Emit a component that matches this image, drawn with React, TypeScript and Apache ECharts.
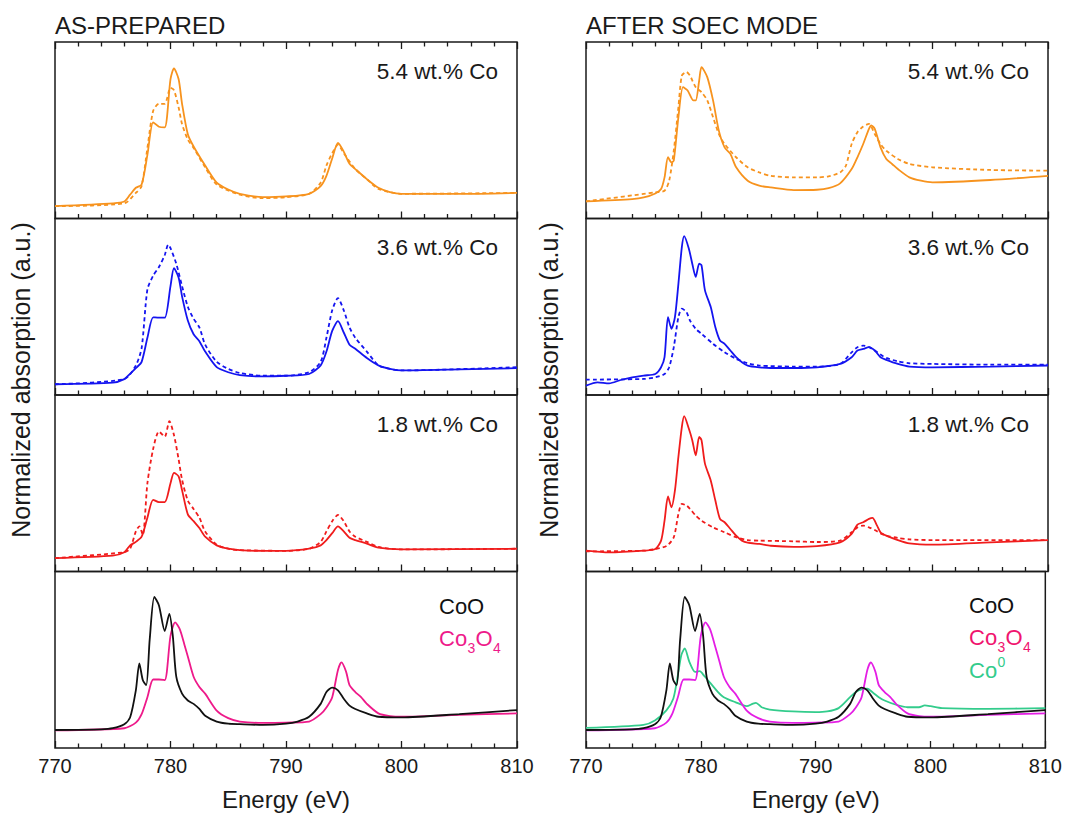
import React, { useEffect, useRef } from "react";
import * as echarts from "echarts";

// ---------- data (energy eV, normalized absorption in % of panel height) ----------
const asPrep54Solid = [[770,7],[775,8.6],[776,9.6],[776.5,13.5],[777,17.4],[777.5,19.3],[778,36],[778.5,54.5],[779,52],[779.5,51.6],[780,79],[780.3,85],[780.7,79],[781,65],[781.5,47.7],[782,40.8],[783,30],[784,20.3],[785,16.4],[786,14],[788,12.1],[790,12.5],[792,14],[793,18.4],[793.5,24.2],[794,34],[794.5,42.8],[795,37.9],[795.5,31],[796,28],[797,22.3],[798,17.4],[799,15],[800,14],[805,13.9],[810,14.5]];
const asPrep54Dash = [[770,7],[776,8.6],[777,14.5],[777.5,18.4],[778,40],[778.5,61],[779,65],[779.5,65],[780,74],[780.3,72.7],[780.7,63],[781,53.5],[781.5,44.7],[782,40],[783,29],[784,19.3],[786,13.5],[788,11.5],[790,12.1],[792,14],[793,20.3],[793.5,30],[794,37],[794.5,41.8],[795,37],[796,28],[797,22.3],[798,16.8],[800,14],[810,14.5]];

const asPrep36Solid = [[770,6.1],[775,7],[776,9],[776.5,12],[777,15.2],[777.5,18.8],[778,32.4],[778.5,44],[779,43.8],[779.5,43.8],[780,61.7],[780.3,71.9],[780.7,66.6],[781,55.9],[781.5,42.2],[782,34.4],[782.5,30.5],[783,24.6],[784,15.8],[785,12.9],[786,11.3],[788,10.5],[790,10.9],[792,11.9],[793,16.8],[793.5,24.6],[794,36.3],[794.5,41.8],[795,35.4],[795.5,28.5],[796,26.2],[797,21],[798,16.8],[799,14.8],[800,13.9],[805,14.5],[810,15.2]];
const asPrep36Dash = [[770,6.1],[776,9],[777,16.8],[777.5,26.6],[778,59.8],[778.5,67.6],[779,72.5],[779.5,79.3],[779.8,85.2],[780,83.2],[780.5,74.4],[781,61.7],[781.5,50],[782,43.2],[782.5,38.3],[783,28.5],[784,18.8],[785,14.8],[786,12.5],[788,10.9],[790,10.9],[792,12.9],[793,18.8],[793.5,32.4],[794,48],[794.5,54.9],[795,48],[795.5,38.3],[796,32.4],[797,24.6],[798,16.8],[799,14.8],[800,13.9],[810,15.8]];

const asPrep18Solid = [[770,7.6],[775,9],[776,10.9],[776.5,14.8],[777,16.8],[777.5,19.7],[778,30.5],[778.5,40.6],[779,39.3],[779.5,39.3],[780,50],[780.3,55.9],[780.7,53.9],[781,46.1],[781.5,32.4],[782,28.5],[782.5,24.6],[783,19.7],[784,14.8],[785,12.9],[786,12.1],[788,11.7],[790,11.7],[792,12.9],[793,14.8],[793.5,17.8],[794,21.7],[794.5,25.6],[795,22.7],[795.5,19.1],[796,17.8],[797,15.8],[798,13.5],[800,12.5],[810,12.9]];
const asPrep18Dash = [[770,7.6],[776,10.9],[776.5,12.9],[777,22.7],[777.3,25.6],[777.6,20.7],[778,50],[778.5,69.5],[779,79.3],[779.5,76.4],[779.9,85.2],[780.3,77.3],[780.7,63.7],[781,52],[781.5,40.2],[782,35.4],[782.5,30.5],[783,22.7],[784,15.2],[785,12.9],[786,12.1],[790,11.7],[792,12.9],[793,16.8],[793.5,22.7],[794,28.5],[794.5,32],[795,28.5],[795.5,22.7],[796,19.7],[797,16.8],[798,13.9],[800,12.5],[810,12.9]];

const cooRef = [[770,10.2],[774,10.6],[775,11.2],[776,13.5],[776.5,17.3],[777,32.7],[777.3,48],[777.6,38.5],[777.9,35.6],[778.2,61.5],[778.6,85.6],[779,80.8],[779.5,66.3],[779.9,76],[780.2,63.5],[780.5,40.4],[781,30.8],[781.5,26.9],[782,25],[782.5,22.1],[783,18.3],[784,15],[785,13.8],[786,13.5],[788,13.1],[790,13.8],[791,15],[792,17.7],[793,25],[793.5,31.7],[794,34.2],[794.5,32.7],[795,27.9],[795.5,24],[796,22.1],[797,19.6],[798,17.7],[800,17.3],[805,19.2],[810,21.5]];
const co3o4Ref = [[770,10],[776,11.2],[777,14.4],[777.5,19.2],[778,28.8],[778.5,38.8],[779,38.8],[779.5,38.5],[780,63.5],[780.4,71.2],[780.8,67.3],[781.2,58.7],[781.5,51.9],[782,40.4],[782.5,34.6],[783,30.8],[784,21.2],[785,16.9],[786,15],[788,14.2],[790,14.4],[792,15],[793,19.2],[793.5,23],[794,28.8],[794.5,44.2],[794.8,48.5],[795.2,43.3],[795.5,35.6],[796,31.7],[796.5,28.8],[797,25],[798,19.6],[799,18.1],[800,17.7],[805,18.8],[810,19.6]];

const soec54Solid = [[770,9.7],[774,11],[775,11.9],[776,14.2],[776.5,16.7],[776.8,23.3],[777.1,34.7],[777.4,31.8],[777.6,32.8],[778,57.4],[778.4,74.4],[778.8,72.5],[779.3,66.9],[779.5,66.9],[779.8,78.2],[780,85.8],[780.5,80.1],[781,66.9],[781.5,49.8],[782,40.3],[782.5,36.6],[783,29],[784,21.4],[785,18.6],[786,17.6],[788,16.1],[790,16.3],[791,17.2],[792,19.9],[793,28],[793.5,34.7],[794,42.2],[794.5,50.8],[794.7,52.7],[795,50.8],[795.5,40.3],[796,33.7],[796.5,30.9],[797,28],[798,23.3],[799,21.4],[800,20.5],[805,21.8],[810,24.2]];
const soec54Dash = [[770,9.7],[776,14.8],[776.8,15.7],[777.2,21.4],[777.6,38.4],[778,63],[778.3,81],[778.7,83],[779,81],[779.5,74.4],[780,71.6],[780.5,66.9],[781,57.4],[781.5,47.9],[782,42.2],[783,34.7],[784,29],[785,26.1],[786,24.2],[788,23.3],[790,23.3],[791,23.9],[792,26.1],[792.5,29.9],[793,42.2],[793.5,48.9],[794,52.1],[794.5,53.6],[795,47.9],[795.5,42.2],[796,38.4],[797,33.7],[798,30.9],[800,29],[805,27.5],[810,27.1]];

const soec36Solid = [[770,5.3],[771,7.2],[772,6.6],[773,8.5],[774,10],[775,11],[776,11.9],[776.5,15.7],[776.8,21.4],[777.1,44.1],[777.4,37.5],[777.7,44.1],[778,63],[778.3,83.9],[778.5,90],[778.9,83],[779.2,74.4],[779.5,66.9],[779.8,74.4],[780,73.5],[780.3,59.3],[780.8,49.8],[781.2,38.4],[781.6,30.9],[782,29],[782.5,25.2],[783,21.4],[783.5,18.6],[784,16.7],[785,15.7],[786,15.3],[788,15.3],[790,15.7],[792,17.6],[793,21.4],[793.5,25.2],[794,26.1],[794.5,27.1],[795,25.2],[795.5,21.4],[796,19.9],[797,17.6],[798,16.1],[800,15.7],[805,16.1],[810,16.7]];
const soec36Dash = [[770,8.7],[775,9.1],[776,10],[776.8,11.9],[777.2,15.7],[777.6,27.1],[778,44.1],[778.3,48.9],[778.7,47],[779,42.2],[779.5,37.5],[780,34.7],[781,29],[782,24.2],[783,20.5],[784,18],[785,16.7],[788,16.1],[790,16.1],[792,17.6],[793,24.2],[793.5,27.1],[794,28],[794.5,27.1],[795,25.2],[795.5,22.9],[796,21],[797,19.1],[798,18],[800,17.6],[805,17.2],[810,17.2]];

const soec18Solid = [[770,11.8],[772,10.8],[775,11.8],[776,12.7],[776.5,17.5],[776.8,28.8],[777.1,42.5],[777.4,36.4],[777.7,45.9],[778,64.9],[778.3,82],[778.5,88],[778.9,81],[779.2,74.4],[779.5,65.8],[779.8,76.3],[780,74.4],[780.3,61.1],[780.8,51.6],[781.2,40.2],[781.6,29.8],[782,27.9],[782.5,24.1],[783,20.3],[783.5,17.5],[784,16.3],[785,15.6],[786,14.6],[788,14],[790,14.4],[792,16.5],[793,21.3],[793.5,26.6],[794,27.9],[794.5,29.8],[794.8,30.4],[795.2,26],[795.5,22.2],[796,20.3],[797,17.8],[798,15.9],[800,15.2],[805,16.5],[810,17.8]];
const soec18Dash = [[770,11.4],[775,11.8],[776,12.7],[777,14.6],[777.6,19.4],[778,32.6],[778.3,38.3],[778.7,37.4],[779,35.5],[779.5,31.7],[780,28.8],[781,25],[782,22.2],[783,19.4],[784,17.8],[785,17.5],[788,17.1],[790,16.7],[792,17.5],[793,22.2],[793.5,25],[794,26],[794.5,25],[795,23.5],[795.5,21.6],[796,20.3],[797,19],[798,18.2],[800,17.8],[810,17.8]];

const co0Ref = [[770,11.4],[775,13.1],[776,15.6],[777,21.3],[777.6,27.9],[778,41.2],[778.3,52.6],[778.6,56.4],[779,48.8],[779.5,43.1],[779.9,43.5],[780.3,40.8],[781,35.5],[781.5,31.7],[782,28.8],[783,26],[784,23.7],[784.5,25],[784.8,25.6],[785.3,23.1],[786,21.8],[788,20.7],[790,20.3],[791,20.7],[792,22.6],[793,28.8],[793.5,31.7],[794,33.2],[794.5,33.6],[795,31.3],[795.5,28.8],[796,26.9],[797,24.5],[798,23.1],[799,23.1],[799.5,24.1],[800,23.7],[801,22.6],[805,22.2],[810,22.6]];

const columnTitles = ["AS-PREPARED", "AFTER SOEC MODE"];
const panelLabels = ["5.4 wt.% Co", "3.6 wt.% Co", "1.8 wt.% Co"];
const xTickRange = [770, 810];

const FONT = '"Liberation Sans", Arial, Helvetica, sans-serif';
const INK = "#1a1a1a";
const ORANGE = "#f7931e";
const BLUE = "#1414f0";
const RED = "#f01c1c";
const BLACK = "#111111";
const PINK = "#ee1a8a";
const MAGENTA = "#e41ee4";
const GREEN = "#33cc8c";

export default function App() {
  const ref = useRef<HTMLDivElement>(null);
  useEffect(() => {
    const chart = echarts.init(ref.current!, null, { renderer: "svg" });

    const colLeft = [55, 586];
    const plotW = 462;
    const rowTop = [42, 218.5, 395, 571.5];
    const rowH = 176.5;

    const grids: any[] = [];
    const xAxes: any[] = [];
    const yAxes: any[] = [];
    const series: any[] = [];

    const tickCfg = {
      axisLine: { show: false },
      axisTick: { show: true, inside: true, length: 7, lineStyle: { color: INK, width: 1.3 } },
      minorTick: { show: true, splitNumber: 5, length: 4.5, lineStyle: { color: INK, width: 1.3 } },
      splitLine: { show: false },
      minorSplitLine: { show: false },
    };

    for (let c = 0; c < 2; c++) {
      for (let r = 0; r < 4; r++) {
        const g = c * 4 + r;
        grids.push({
          left: colLeft[c], top: rowTop[r], width: plotW, height: rowH,
          show: true, borderColor: INK, borderWidth: 1.5, backgroundColor: "transparent",
        });
        const bottomRow = r === 3;
        xAxes.push({
          type: "value", gridIndex: g, min: xTickRange[0], max: xTickRange[1], interval: 10,
          position: "bottom",
          ...tickCfg,
          axisLabel: bottomRow
            ? { show: true, fontSize: 20, color: INK, margin: 8, fontFamily: FONT, showMinLabel: true, showMaxLabel: true }
            : { show: false },
          name: bottomRow ? "Energy (eV)" : "",
          nameLocation: "middle", nameGap: 39,
          nameTextStyle: { fontSize: 24, color: INK, fontFamily: FONT },
        });
        yAxes.push({ type: "value", gridIndex: g, min: 0, max: 100, show: false });
      }
    }
    // top tick axes for first row
    [0, 4].forEach((g) => {
      xAxes.push({
        type: "value", gridIndex: g, min: xTickRange[0], max: xTickRange[1], interval: 10,
        position: "top", ...tickCfg, axisLabel: { show: false },
      });
    });

    const addLine = (g: number, data: number[][], color: string, dashed: boolean, z = 2) => {
      series.push({
        type: "line", xAxisIndex: g, yAxisIndex: g, data, color,
        showSymbol: false, symbol: "none", smooth: 0.25, silent: true, z,
        lineStyle: { color, width: 1.8, type: dashed ? [4, 3] : "solid" },
      });
    };

    addLine(0, asPrep54Dash, ORANGE, true);
    addLine(0, asPrep54Solid, ORANGE, false);
    addLine(1, asPrep36Dash, BLUE, true);
    addLine(1, asPrep36Solid, BLUE, false);
    addLine(2, asPrep18Dash, RED, true);
    addLine(2, asPrep18Solid, RED, false);
    addLine(3, co3o4Ref, PINK, false);
    addLine(3, cooRef, BLACK, false, 3);

    addLine(4, soec54Dash, ORANGE, true);
    addLine(4, soec54Solid, ORANGE, false);
    addLine(5, soec36Dash, BLUE, true);
    addLine(5, soec36Solid, BLUE, false);
    addLine(6, soec18Dash, RED, true);
    addLine(6, soec18Solid, RED, false);
    addLine(7, co0Ref, GREEN, false);
    addLine(7, co3o4Ref, MAGENTA, false);
    addLine(7, cooRef, BLACK, false, 3);

    const txt = (x: number, y: number, text: string, align: string, size = 22, fill = INK) => ({
      type: "text", x, y, silent: true,
      style: { text, fill, fontSize: size, fontFamily: FONT, align, verticalAlign: "middle" },
    });

    const graphics: any[] = [];
    graphics.push(txt(55, 25, columnTitles[0], "left", 24));
    graphics.push(txt(586, 25, columnTitles[1], "left", 24));
    for (let r = 0; r < 3; r++) {
      graphics.push(txt(498, rowTop[r] + 29, panelLabels[r], "right", 22.5));
      graphics.push(txt(1029, rowTop[r] + 29, panelLabels[r], "right", 22.5));
    }
    // chemical formula labels with sub/superscripts
    const co3o4 = (x: number, y: number, color: string) => [
      txt(x, y, "Co", "left", 22, color),
      txt(x + 28.5, y + 10, "3", "left", 14, color),
      txt(x + 36.5, y, "O", "left", 22, color),
      txt(x + 54, y + 10, "4", "left", 14, color),
    ];
    graphics.push(txt(439, 606, "CoO", "left", 22, BLACK));
    graphics.push(...co3o4(439, 638, PINK));
    graphics.push(txt(969, 605, "CoO", "left", 22, BLACK));
    graphics.push(...co3o4(969, 637, "#f0146e"));
    graphics.push(txt(969, 670, "Co", "left", 22, GREEN));
    graphics.push(txt(997.5, 662, "0", "left", 14, GREEN));

    // rotated y-axis titles
    [21, 549].forEach((x) => {
      graphics.push({
        type: "text", x, y: 380, rotation: Math.PI / 2, silent: true,
        style: { text: "Normalized absorption (a.u.)", fill: INK, fontSize: 25, fontFamily: FONT, align: "center", verticalAlign: "middle" },
      });
    });

    chart.setOption({
      animation: false,
      backgroundColor: "#ffffff",
      grid: grids,
      xAxis: xAxes,
      yAxis: yAxes,
      series,
      graphic: graphics,
    });
    return () => chart.dispose();
  }, []);
  return <div ref={ref} style={{ position: "absolute", left: 0, top: 0, width: 1065, height: 814 }} />;
}
